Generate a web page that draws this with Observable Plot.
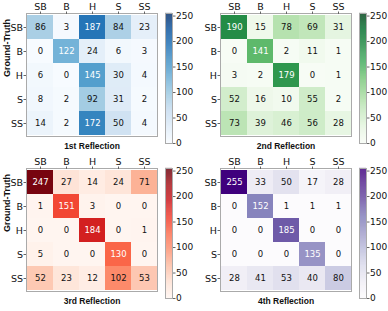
<!DOCTYPE html>
<html>
<head>
<meta charset="utf-8">
<script src="https://cdn.jsdelivr.net/npm/d3@7"></script>
<script src="https://cdn.jsdelivr.net/npm/@observablehq/plot@0.6"></script>
<style>
  html, body { margin: 0; padding: 0; background: #fff; }
  #chart { position: relative; width: 388px; height: 311px; overflow: hidden; }
  #chart > svg { position: absolute; }
</style>
</head>
<body>
<div id="chart"></div>
<script>
const categories = ["SB", "B", "H", "S", "SS"];
const colorbarTicks = [0, 50, 100, 150, 200, 250];
const colorMax = 255;

const reflection1 = [
  [86, 3, 187, 84, 23],
  [0, 122, 24, 6, 3],
  [6, 0, 145, 30, 4],
  [8, 2, 92, 31, 2],
  [14, 2, 172, 50, 4]
];
const reflection2 = [
  [190, 15, 78, 69, 31],
  [0, 141, 2, 11, 1],
  [3, 2, 179, 0, 1],
  [52, 16, 10, 55, 2],
  [73, 39, 46, 56, 28]
];
const reflection3 = [
  [247, 27, 14, 24, 71],
  [1, 151, 3, 0, 0],
  [0, 0, 184, 0, 1],
  [5, 0, 0, 130, 0],
  [52, 23, 12, 102, 53]
];
const reflection4 = [
  [255, 33, 50, 17, 28],
  [0, 152, 1, 1, 1],
  [0, 0, 185, 0, 0],
  [0, 0, 0, 135, 0],
  [28, 41, 53, 40, 80]
];
const titles = ["1st Reflection", "2nd Reflection", "3rd Reflection", "4th Reflection"];
const yLabel = "Ground-Truth";

const panels = [
  {m: reflection1, title: titles[0], scheme: d3.schemeBlues[9], ox: 0, oy: 0, ylab: true},
  {m: reflection2, title: titles[1], scheme: d3.schemeGreens[9], ox: 194, oy: 0, ylab: false},
  {m: reflection3, title: titles[2], scheme: d3.schemeReds[9], ox: 0, oy: 155, ylab: true},
  {m: reflection4, title: titles[3], scheme: d3.schemePurples[9], ox: 194, oy: 155, ylab: false}
];

const container = document.getElementById("chart");
const tickFont = "DejaVu Sans, sans-serif";
const boldFont = "Liberation Sans, Arial, sans-serif";

for (const p of panels) {
  const data = [];
  p.m.forEach((row, i) => row.forEach((v, j) => data.push({truth: categories[i], pred: categories[j], value: v})));
  const thr = d3.max(data, d => d.value) / 2;
  const colorOpts = {
    type: "linear",
    domain: d3.range(9).map(i => i * colorMax / 8),
    range: p.scheme,
    interpolate: "rgb"
  };

  const heat = Plot.plot({
    width: 194, height: 155,
    marginLeft: 26, marginRight: 37, marginTop: 13, marginBottom: 19,
    x: {domain: categories, padding: 0, axis: null},
    y: {domain: categories, padding: 0, axis: null},
    color: colorOpts,
    style: {fontFamily: tickFont, background: "transparent", overflow: "visible"},
    marks: [
      Plot.cell(data, {x: "pred", y: "truth", fill: "value"}),
      Plot.text(data.filter(d => d.value > thr), {x: "pred", y: "truth", text: "value", fill: "white", fontSize: 8.5}),
      Plot.text(data.filter(d => d.value <= thr), {x: "pred", y: "truth", text: "value", fill: "#111", fontSize: 8.5}),
      Plot.frame({stroke: "#aaa"}),
      Plot.axisX({anchor: "top", label: null, tickSize: 2.5, tickPadding: 1, fontSize: 9.5, stroke: "#666", fill: "#111"}),
      Plot.axisY({anchor: "left", label: null, tickSize: 2.5, tickPadding: 1, fontSize: 9.5, stroke: "#666", fill: "#111"}),
      Plot.text([p.title], {frameAnchor: "bottom", dy: 12, fontWeight: "bold", fontSize: 8.5, fontFamily: boldFont, fill: "#111"}),
      p.ylab ? Plot.text([yLabel], {frameAnchor: "left", rotate: -90, dx: -19, dy: 2, fontWeight: "bold", fontSize: 9, fontFamily: boldFont, fill: "#111"}) : null
    ]
  });
  heat.style.left = p.ox + "px";
  heat.style.top = p.oy + "px";
  container.appendChild(heat);

  const steps = d3.range(0, colorMax, 1);
  const bar = Plot.plot({
    width: 40, height: 155,
    marginLeft: 5, marginRight: 28, marginTop: 13, marginBottom: 12,
    x: {domain: [0, 1], axis: null},
    y: {domain: [0, colorMax], axis: null},
    color: colorOpts,
    style: {fontFamily: tickFont, background: "transparent", overflow: "visible"},
    marks: [
      Plot.rect(steps, {x1: 0, x2: 1, y1: d => d, y2: d => d + 1.2, fill: d => d + 0.5}),
      Plot.frame({stroke: "#aaa"}),
      Plot.axisY({anchor: "right", ticks: colorbarTicks, label: null, tickSize: 2.5, tickPadding: 1, fontSize: 9, stroke: "#666", fill: "#111"})
    ]
  });
  bar.style.left = (p.ox + 160) + "px";
  bar.style.top = p.oy + "px";
  container.appendChild(bar);
}
</script>
</body>
</html>
